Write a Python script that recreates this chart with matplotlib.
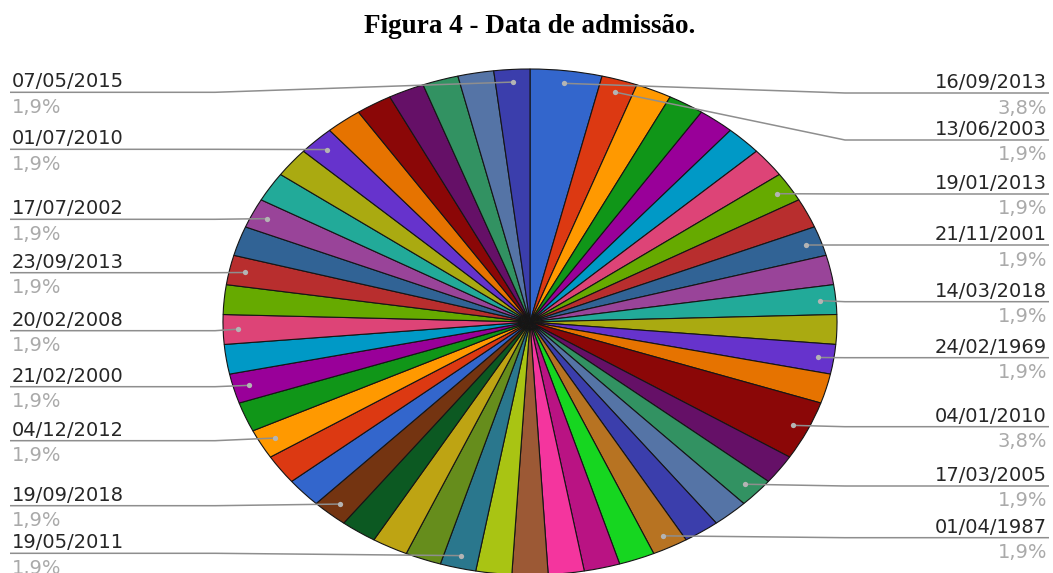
import matplotlib
matplotlib.use("Agg")
import matplotlib.pyplot as plt
import numpy as np

# Admission dates (only the ones that get a callout are named) and head counts
dates = [
    "16/09/2013", "13/06/2003", "", "", "", "", "", "19/01/2013", "", "21/11/2001",
    "", "14/03/2018", "", "24/02/1969", "", "04/01/2010", "", "17/03/2005", "", "",
    "01/04/1987", "", "", "", "", "", "19/05/2011", "", "", "",
    "19/09/2018", "", "", "04/12/2012", "", "21/02/2000", "", "20/02/2008", "", "23/09/2013",
    "", "17/07/2002", "", "", "01/07/2010", "", "", "", "", "",
    "07/05/2015",
]
counts = [1] * len(dates)
counts[0] = 2    # 16/09/2013
counts[15] = 2   # 04/01/2010

palette = ["#3366cc", "#dc3912", "#ff9900", "#109618", "#990099", "#0099c6", "#dd4477",
           "#66aa00", "#b82e2e", "#316395", "#994499", "#22aa99", "#aaaa11", "#6633cc",
           "#e67300", "#8b0707", "#651067", "#329262", "#5574a6", "#3b3eac", "#b77322",
           "#16d620", "#b91383", "#f4359e", "#9c5935", "#a9c413", "#2a778d", "#668d1c",
           "#bea413", "#0c5922", "#743411"]
colors = [palette[i % len(palette)] for i in range(len(dates))]

# Layout (pixels, origin top-left)
W, H = 1053, 573
CX, CY, RX, RY = 530, 322, 307, 253
right_rows = [93, 140, 194, 245, 301.7, 357.7, 426.7, 486, 537.7]
left_rows = [92.3, 149.3, 219.3, 272.7, 330.7, 386.7, 440.7, 505.7, 553.3]
RIGHT_ELBOW, RIGHT_END, RIGHT_TEXT = 845, 1049, 1047
LEFT_ELBOW, LEFT_END, LEFT_TEXT = 215, 10, 12

fig = plt.figure(figsize=(W / 100, H / 100), dpi=100)

pie_ax = fig.add_axes([(CX - RX) / W, (H - CY - RY) / H, 2 * RX / W, 2 * RY / H])
wedges, _ = pie_ax.pie(counts, colors=colors, startangle=90, counterclock=False,
                       wedgeprops=dict(edgecolor="#151515", linewidth=0.8))
pie_ax.set_aspect("auto")
pie_ax.set_xlim(-1, 1)
pie_ax.set_ylim(-1, 1)
pie_ax.axis("off")

ov = fig.add_axes([0, 0, 1, 1], zorder=5)
ov.set_xlim(0, W)
ov.set_ylim(H, 0)
ov.axis("off")

total = sum(counts)
to_ov = ov.transData.inverted()

callouts = []
for w, name, c in zip(wedges, dates, counts):
    if not name:
        continue
    mid = np.deg2rad((w.theta1 + w.theta2) / 2)
    disp = pie_ax.transData.transform((0.95 * np.cos(mid), 0.95 * np.sin(mid)))
    px, py = to_ov.transform(disp)
    pct = f"{100 * c / total:.1f}".replace(".", ",") + "%"
    callouts.append((px, py, name, pct))

right = sorted([c for c in callouts if c[0] > CX], key=lambda c: c[1])
left = sorted([c for c in callouts if c[0] <= CX], key=lambda c: c[1])

line_kw = dict(color="#8e8e8e", lw=1.1, solid_capstyle="butt")
date_kw = dict(fontsize=14, color="#262626", family="DejaVu Sans", va="baseline")
pct_kw = dict(fontsize=14, color="#aaaaaa", family="DejaVu Sans", va="baseline")

for (px, py, name, pct), ry in zip(right, right_rows):
    ov.plot([px, RIGHT_ELBOW, RIGHT_END], [py, ry, ry], **line_kw)
    ov.plot(px, py, "o", ms=3.8, color="#b4b4b4", mec="none")
    ov.text(RIGHT_TEXT, ry - 5, name, ha="right", **date_kw)
    ov.text(RIGHT_TEXT, ry + 20.5, pct, ha="right", **pct_kw)

for (px, py, name, pct), ry in zip(left, left_rows):
    ov.plot([px, LEFT_ELBOW, LEFT_END], [py, ry, ry], **line_kw)
    ov.plot(px, py, "o", ms=3.8, color="#b4b4b4", mec="none")
    ov.text(LEFT_TEXT, ry - 5, name, ha="left", **date_kw)
    ov.text(LEFT_TEXT, ry + 20.5, pct, ha="left", **pct_kw)

fig.text(530 / W, (H - 33) / H, "Figura 4 - Data de admissão.", ha="center",
         va="baseline", fontsize=19.5, fontweight="bold", family="Liberation Serif")

fig.savefig("out.png", dpi=100)
